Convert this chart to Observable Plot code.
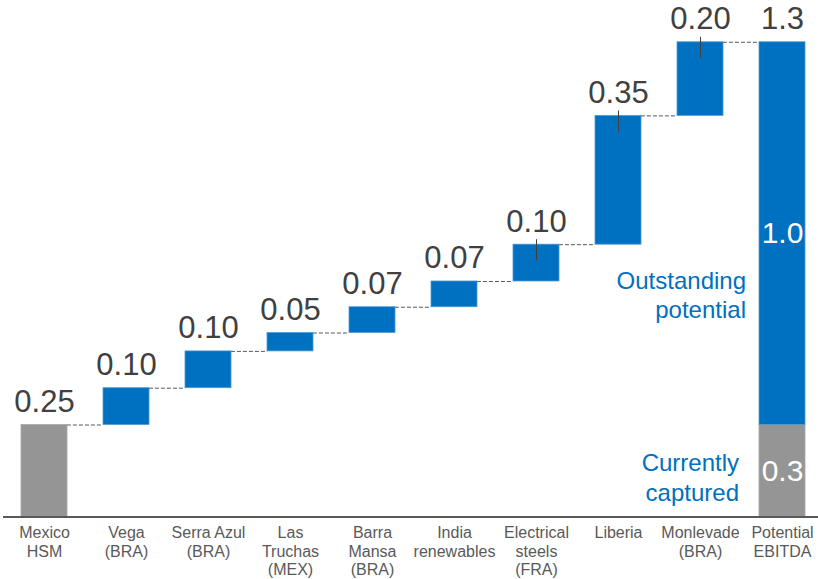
<!DOCTYPE html>
<html>
<head>
<meta charset="utf-8">
<script src="https://cdn.jsdelivr.net/npm/d3@7"></script>
<script src="https://cdn.jsdelivr.net/npm/@observablehq/plot@0.6"></script>
<style>
  body { margin: 0; background: #fff; }
  svg { display: block; }
</style>
</head>
<body>
<div id="chart"></div>
<script>
// ---- Data ----
const categories = [
  "Mexico\nHSM",
  "Vega\n(BRA)",
  "Serra Azul\n(BRA)",
  "Las\nTruchas\n(MEX)",
  "Barra\nMansa\n(BRA)",
  "India\nrenewables",
  "Electrical\nsteels\n(FRA)",
  "Liberia",
  "Monlevade\n(BRA)",
  "Potential\nEBITDA"
];
const increments = [0.25, 0.10, 0.10, 0.05, 0.07, 0.07, 0.10, 0.35, 0.20];
const incrementLabels = ["0.25", "0.10", "0.10", "0.05", "0.07", "0.07", "0.10", "0.35", "0.20"];
const capturedValue = 0.25;
const capturedLabel = "0.3";
const outstandingLabel = "1.0";
const totalLabel = "1.3";
const tickedCategories = ["Electrical\nsteels\n(FRA)", "Liberia", "Monlevade\n(BRA)"];
const annotationOutstanding = "Outstanding\npotential";
const annotationCaptured = "Currently\ncaptured";

// ---- Derived tables ----
const BLUE = "#0070C0";
const GRAY = "#959595";
const DARK = "#404040";
const totalCat = categories[categories.length - 1];

let cum = 0;
const steps = increments.map((v, i) => {
  const r = {cat: categories[i], y1: cum, y2: cum + v, label: incrementLabels[i], kind: i === 0 ? "base" : "step"};
  cum += v;
  return r;
});
const total = cum;
const bars = [
  ...steps,
  {cat: totalCat, y1: 0, y2: capturedValue, kind: "base"},
  {cat: totalCat, y1: capturedValue, y2: total, kind: "step"}
];
const topLabels = [
  ...steps.map(d => ({cat: d.cat, y: d.y2, label: d.label})),
  {cat: totalCat, y: total, label: totalLabel}
];
const connectors = steps.map((d, i) => ({from: categories[i], to: categories[i + 1], y: d.y2}));
const ticks = steps.filter(d => tickedCategories.includes(d.cat));
const innerLabels = [
  {cat: totalCat, y: capturedValue / 2, label: capturedLabel},
  {cat: totalCat, y: (capturedValue + total) / 2, label: outstandingLabel}
];

const step = 82, bw = step * 0.56;

const chart = Plot.plot({
  width: 818,
  height: 579,
  marginTop: 1.3,
  marginBottom: 62.5,
  marginLeft: 3,
  marginRight: 0,
  style: {fontFamily: "'Liberation Sans', Arial, sans-serif", background: "#fff", overflow: "visible"},
  x: {domain: categories, range: [3, 823], paddingInner: 0.44, paddingOuter: 0.22},
  y: {domain: [0, 1.4], axis: null},
  marks: [
    Plot.ruleY(connectors, {x1: "from", x2: "to", y: "y", insetLeft: bw, insetRight: bw,
      stroke: "#595959", strokeWidth: 1, strokeDasharray: "4,2"}),
    Plot.barY(bars, {x: "cat", y1: "y1", y2: "y2",
      fill: d => d.kind === "base" ? GRAY : BLUE,
      stroke: d => d.kind === "base" ? "#a8a8a8" : "#4f9ad6", strokeWidth: 0.8}),
    Plot.ruleX(ticks, {x: "cat", y1: "y2", y2: "y2", insetTop: -5, insetBottom: -16,
      stroke: DARK, strokeWidth: 1}),
    Plot.text(topLabels, {x: "cat", y: "y", text: "label", dy: -13, lineAnchor: "bottom",
      fontSize: 31, fill: DARK}),
    Plot.text(innerLabels, {x: "cat", y: "y", text: "label", fontSize: 30, fill: "#fff"}),
    Plot.text([annotationOutstanding], {x: () => totalCat, y: () => 0.606, text: d => d,
      textAnchor: "end", dx: -36.5, fontSize: 24, lineHeight: 1.21, fill: BLUE}),
    Plot.text([annotationCaptured], {x: () => totalCat, y: () => 0.1095, text: d => d,
      textAnchor: "end", dx: -43.5, fontSize: 24, lineHeight: 1.21, fill: BLUE}),
    Plot.ruleY([0], {stroke: "#595959", strokeWidth: 2}),
    Plot.axisX({tickSize: 0, tickPadding: 8, fontSize: 16, lineHeight: 1.16,
      fill: "#595959", label: null})
  ]
});
document.getElementById("chart").appendChild(chart);
</script>
</body>
</html>
